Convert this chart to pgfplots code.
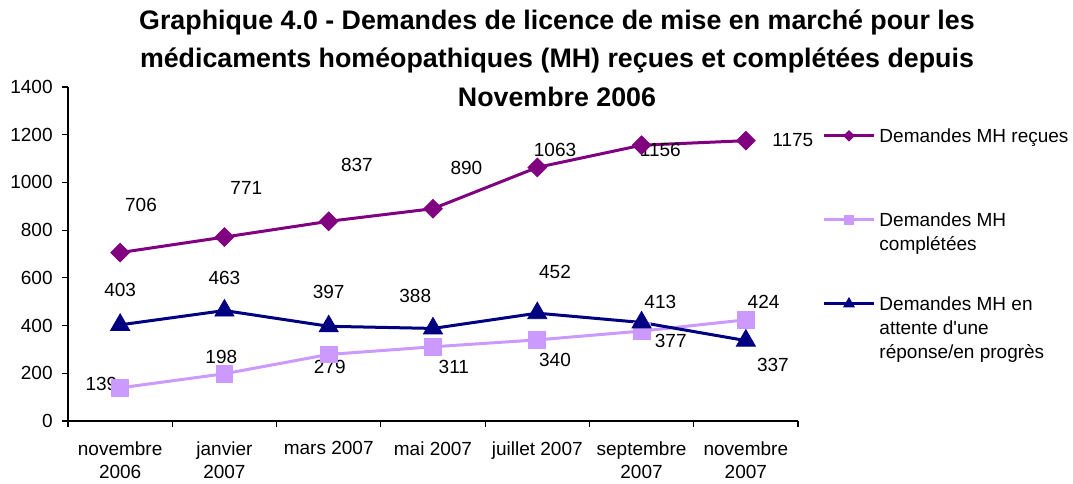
\documentclass[border=0pt]{standalone}
\usepackage{fontspec}
\setmainfont{Liberation Sans}
\usepackage{pgfplots}
\pgfplotsset{compat=1.18}
\definecolor{recues}{HTML}{800080}
\definecolor{completees}{HTML}{CC99FF}
\definecolor{attente}{HTML}{000080}
\newcommand{\lbl}{\fontsize{9.5}{11.5}\selectfont}
\newcommand{\lgd}[1]{\parbox[t][36pt][t]{100pt}{\fontsize{9.5}{12}\selectfont\raggedright #1}}

\begin{document}
\begin{tikzpicture}
\useasboundingbox (0,0) rectangle (536.5pt,241.5pt);
\node[anchor=north, align=center, inner sep=0pt,
      font=\fontsize{13.4}{19.3}\selectfont\bfseries] at (278.5pt,236.9pt)
  {Graphique 4.0 - Demandes de licence de mise en marché pour les\\
   médicaments homéopathiques (MH) reçues et complétées depuis\\
   Novembre 2006};
\begin{axis}[
  at={(34pt,31pt)}, anchor=south west,
  scale only axis, width=365pt, height=167pt,
  xmin=-0.5, xmax=6.5, ymin=0, ymax=1400,
  clip=false,
  axis x line=bottom, axis y line=left,
  axis line style={-, line width=0.6pt, black},
  tick align=outside,
  major tick length=3pt, minor tick length=3pt,
  tick style={black, line width=0.6pt},
  ytick={0,200,...,1400},
  xtick={0,...,6},
  xticklabels={{novembre\\2006},{janvier\\2007},{mars 2007},{mai 2007},{juillet 2007},{septembre\\2007},{novembre\\2007}},
  major x tick style={draw=none},
  minor xtick={-0.5,0.5,...,6.5},
  x tick label style={font=\lbl, align=center, anchor=north, inner sep=0pt, yshift=-7pt},
  y tick label style={font=\lbl, anchor=east, inner sep=0pt, xshift=-4.5pt},
  /pgf/number format/assume math mode=true,
  /pgf/number format/1000 sep={},
  legend cell align=left,
  legend style={draw=none, fill=none, inner sep=0pt, anchor=north west,
    at={(1.033,0.877)}, row sep=6pt, column sep=2pt,
    cells={anchor=base west},
    nodes={inner sep=0pt, text depth={}}},
  legend image code/.code={\draw[yshift=3.2pt, mark repeat=2, mark phase=2, #1, every mark/.append style={scale=0.55}]
    plot coordinates {(0pt,0pt) (12.5pt,0pt) (25pt,0pt)};},
]
\addplot[recues, line width=1.5pt, mark=square*, mark size=3.3pt,
  mark options={rotate=45, line width=0.4pt}]
  coordinates {(0,706) (1,771) (2,837) (3,890) (4,1063) (5,1156) (6,1175)};
\addlegendentry{\lgd{Demandes MH reçues}}
\addplot[completees, line width=1.5pt, mark=square*, mark size=4.2pt,
  mark options={line width=0.4pt}]
  coordinates {(0,139) (1,198) (2,279) (3,311) (4,340) (5,377) (6,424)};
\addlegendentry{\lgd{Demandes MH\\complétées}}
\addplot[attente, line width=1.5pt, mark=triangle*, mark size=5.5pt,
  mark options={line width=0.4pt}]
  coordinates {(0,403) (1,463) (2,397) (3,388) (4,452) (5,413) (6,337)};
\addlegendentry{\lgd{Demandes MH en\\attente d\textquotesingle une\\réponse/en progrès}}

% data labels
\begin{scope}[every node/.style={font=\lbl, inner sep=0pt}]
\node at (axis cs:0.2,905) {706};
\node at (axis cs:1.21,976) {771};
\node at (axis cs:2.27,1073) {837};
\node at (axis cs:3.32,1060) {890};
\node at (axis cs:4.17,1136) {1063};
\node at (axis cs:5.18,1136) {1156};
\node at (axis cs:6.45,1177) {1175};
\node at (axis cs:0,549) {403};
\node at (axis cs:1,599) {463};
\node at (axis cs:2,540) {397};
\node at (axis cs:2.83,524) {388};
\node at (axis cs:4.17,624) {452};
\node at (axis cs:5.18,499) {413};
\node at (axis cs:6.26,235) {337};
\node at (axis cs:-0.18,155) {139};
\node at (axis cs:0.97,268) {198};
\node at (axis cs:2.01,226) {279};
\node at (axis cs:3.2,226) {311};
\node at (axis cs:4.17,256) {340};
\node at (axis cs:5.28,335) {377};
\node at (axis cs:6.17,499) {424};
\end{scope}
\end{axis}
\end{tikzpicture}
\end{document}
